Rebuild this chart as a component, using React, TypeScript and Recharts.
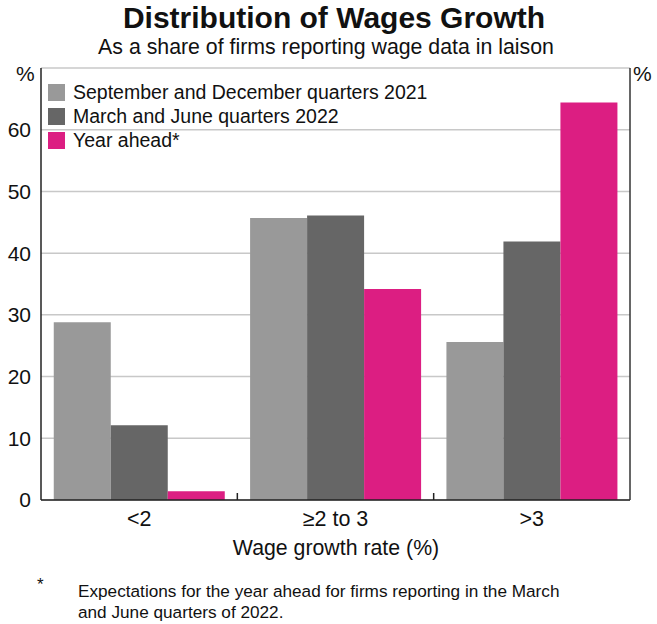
import React from 'react';
import { BarChart, Bar, XAxis, YAxis, CartesianGrid } from 'recharts';

const categories = ['<2', '≥2 to 3', '>3'];
const sepDec2021 = [28.8, 45.7, 25.6];
const marJun2022 = [12.1, 46.1, 41.9];
const yearAhead = [1.4, 34.2, 64.4];
const yTicks = [0, 10, 20, 30, 40, 50, 60];
const seriesNames = [
  'September and December quarters 2021',
  'March and June quarters 2022',
  'Year ahead*',
];
const colors = ['#999999', '#666666', '#DC1E82'];

const data = categories.map((c, i) => ({
  cat: c,
  a: sepDec2021[i],
  b: marJun2022[i],
  c: yearAhead[i],
}));

const FONT = '"Liberation Sans", Arial, sans-serif';

const XTick = (props: any) => {
  const { x, y, payload, index } = props;
  const off = payload && payload.offset != null ? payload.offset : 98;
  return (
    <g>
      <text x={x} y={y + 26} textAnchor="middle" fontSize={21.5} fill="#111" fontFamily={FONT}>
        {payload.value}
      </text>
      {index < categories.length - 1 && (
        <line x1={x + off} x2={x + off} y1={y} y2={y - 7} stroke="#222" strokeWidth={1.5} />
      )}
    </g>
  );
};

export default function App() {
  return (
    <div style={{ position: 'absolute', left: 0, top: 0, width: 657, height: 624, background: '#fff', fontFamily: FONT, color: '#111' }}>
      <div style={{ position: 'absolute', left: 0, width: 668, top: 1, textAlign: 'center', fontSize: 30, fontWeight: 'bold', whiteSpace: 'nowrap' }}>
        Distribution of Wages Growth
      </div>
      <div style={{ position: 'absolute', left: 0, width: 652, top: 35, textAlign: 'center', fontSize: 21.3, whiteSpace: 'nowrap' }}>
        As a share of firms reporting wage data in laison
      </div>
      <div style={{ position: 'absolute', left: 16, top: 62, fontSize: 21 }}>%</div>
      <div style={{ position: 'absolute', left: 633, top: 62, fontSize: 21 }}>%</div>
      <div style={{ position: 'absolute', left: 0, width: 672, top: 536, textAlign: 'center', fontSize: 21.3, whiteSpace: 'nowrap' }}>
        Wage growth rate (%)
      </div>
      <div style={{ position: 'absolute', left: 37, top: 575, fontSize: 17 }}>*</div>
      <div style={{ position: 'absolute', left: 78, top: 581, fontSize: 17.2, lineHeight: '21px', whiteSpace: 'nowrap' }}>
        Expectations for the year ahead for firms reporting in the March
        <br />
        and June quarters of 2022.
      </div>
      <div style={{ position: 'absolute', left: 0, top: 0 }}>
        <BarChart
          width={657}
          height={624}
          data={data}
          margin={{ top: 68, right: 0, bottom: 94, left: 5 }}
          barCategoryGap="6.5%"
          barGap={0}
        >
          <CartesianGrid vertical={false} stroke="#c8c8c8" strokeWidth={1.5} yAxisId="left" />
          <XAxis
            dataKey="cat"
            xAxisId="bottom"
            height={30}
            axisLine={{ stroke: '#222', strokeWidth: 1.5 }}
            tickLine={false}
            tickSize={0}
            tickMargin={0}
            tick={<XTick />}
            interval={0}
          />
          <XAxis
            dataKey="cat"
            xAxisId="top"
            orientation="top"
            height={0}
            axisLine={{ stroke: '#333', strokeWidth: 1.5 }}
            tickLine={false}
            tick={false}
          />
          <YAxis
            yAxisId="left"
            width={36}
            domain={[0, 70]}
            ticks={yTicks}
            interval={0}
            axisLine={{ stroke: '#222', strokeWidth: 1.5 }}
            tickLine={false}
            tickMargin={4}
            tick={{ fontSize: 21, fill: '#111', fontFamily: FONT }}
          />
          <YAxis
            yAxisId="right"
            orientation="right"
            width={27}
            domain={[0, 70]}
            ticks={yTicks}
            interval={0}
            axisLine={{ stroke: '#333', strokeWidth: 1.5 }}
            tickLine={{ stroke: '#c8c8c8', strokeWidth: 1.5 }}
            tickSize={3}
            tickMargin={0}
            tick={{ fontSize: 21, fill: '#111', fontFamily: FONT, textAnchor: 'start' }}
          />
          <Bar dataKey="a" name={seriesNames[0]} fill={colors[0]} xAxisId="bottom" yAxisId="left" isAnimationActive={false} />
          <Bar dataKey="b" name={seriesNames[1]} fill={colors[1]} xAxisId="bottom" yAxisId="left" isAnimationActive={false} />
          <Bar dataKey="c" name={seriesNames[2]} fill={colors[2]} xAxisId="bottom" yAxisId="left" isAnimationActive={false} />
        </BarChart>
      </div>
      <div style={{ position: 'absolute', left: 48, top: 80 }}>
        {seriesNames.map((n, i) => (
          <div key={n} style={{ display: 'flex', alignItems: 'center', height: 24, fontSize: 19.5, whiteSpace: 'nowrap' }}>
            <div style={{ width: 17, height: 17, background: colors[i], marginRight: 8 }} />
            <span>{n}</span>
          </div>
        ))}
      </div>
    </div>
  );
}
